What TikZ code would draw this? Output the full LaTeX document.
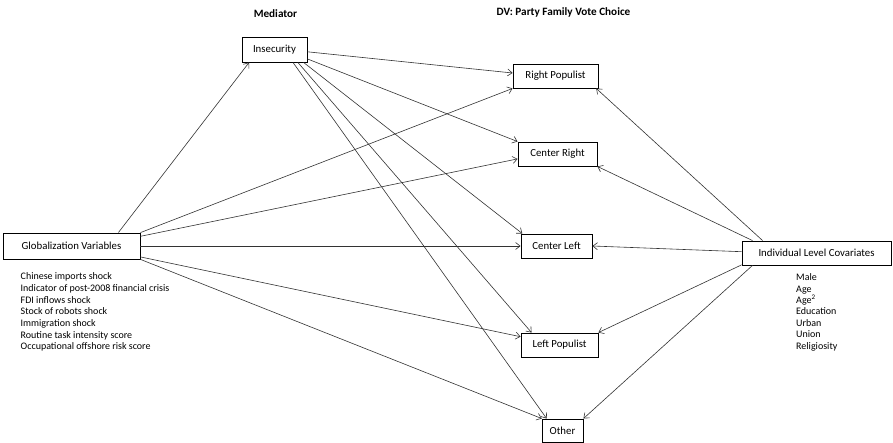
\documentclass[tikz,border=0pt]{standalone}
\usepackage{fontspec}
\setmainfont{Carlito}
\usetikzlibrary{arrows.meta}
\tikzset{
  box/.style={draw=black, line width=0.9pt, fill=white, inner sep=0pt,
    font=\fontsize{10.8}{13}\selectfont},
  link/.style={draw=black!80, line width=0.6pt,
    -{Straight Barb[length=4.5pt,width=7pt]}},
  listtext/.style={anchor=north west, inner sep=0pt, align=left},
  header/.style={anchor=base, inner sep=0pt, font=\fontsize{11.2}{13}\selectfont\bfseries}
}
\begin{document}
\begin{tikzpicture}[x=1pt,y=-1pt]
\useasboundingbox[fill=white] (0,0) rectangle (893,443);

% headers
\node[header] (hmed) at (275.5,17.3) {Mediator};
\node[header] (hdv) at (563.5,15.3) {DV: Party Family Vote Choice};

% boxes
\node[box, minimum width=137pt, minimum height=26pt] (glob) at (71.5,246) {Globalization Variables};
\node[box, minimum width=65pt, minimum height=25pt] (ins) at (274.5,49.5) {Insecurity};
\node[box, minimum width=85pt, minimum height=24pt] (rp) at (555.5,76) {Right Populist};
\node[box, minimum width=79pt, minimum height=24pt] (cr) at (557.5,154) {Center Right};
\node[box, minimum width=71pt, minimum height=24pt] (cl) at (556.5,246) {Center Left};
\node[box, minimum width=77pt, minimum height=24pt] (lp) at (559.5,345) {Left Populist};
\node[box, minimum width=41pt, minimum height=23pt] (oth) at (562.5,430.5) {Other};
\node[box, minimum width=149pt, minimum height=24pt] (ind) at (816.5,253) {Individual Level Covariates};

% lists
\node[listtext, font=\fontsize{10}{11.7}\selectfont] (globlist) at (20.5,272.5) {Chinese imports shock\\
Indicator of post-2008 financial crisis\\
FDI inflows shock\\
Stock of robots shock\\
Immigration shock\\
Routine task intensity score\\
Occupational offshore risk score};
\node[listtext, font=\fontsize{10}{11.4}\selectfont] (indlist) at (796,273.5) {Male\\
Age\\
Age\textsuperscript{2}\\
Education\\
Urban\\
Union\\
Religiosity};

% globalization edges
\draw[link] (glob.16.6) -- (ins.207);
\draw[link] (glob.11.2) -- (rp.south west);
\draw[link] (glob.8.3) -- (cr.187);
\draw[link] (glob.east) -- (cl.west);
\draw[link] (glob.-9.1) -- (lp.168.6);
\draw[link] (glob.-11.4) -- (oth.150);

% insecurity edges
\draw[link] (ins.-4.4) -- (rp.176);
\draw[link] (ins.-16.3) -- (cr.north west);
\draw[link] (ins.-24.4) -- (cl.160);
\draw[link] (ins.-29.1) -- (lp.156.4);
\draw[link] (ins.-35.5) -- (oth.143);

% covariate edges
\draw[link] (ind.167.7) -- (rp.-17.7);
\draw[link] (ind.169.8) -- (cr.south east);
\draw[link] (ind.179) -- (cl.east);
\draw[link] (ind.189.9) -- (lp.north east);
\draw[link] (ind.191.9) -- (oth.north east);
\end{tikzpicture}
\end{document}
